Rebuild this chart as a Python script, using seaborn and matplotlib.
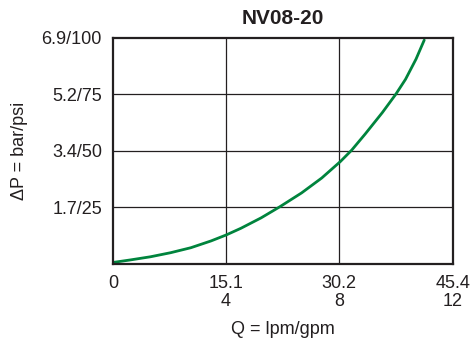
import numpy as np
import pandas as pd
import matplotlib
matplotlib.use("Agg")
import matplotlib.pyplot as plt
import seaborn as sns

# curve: flow in lpm, pressure drop in psi
flow_lpm = [0, 2.3, 5.0, 7.7, 10.4, 13.1, 15.1, 17.1, 19.8, 22.3, 25.2,
            27.9, 30.4, 31.9, 33.7, 36.0, 37.8, 39.1, 40.5, 41.6]
dp_psi = [0.7, 1.8, 3.2, 5.0, 7.2, 10.2, 12.8, 15.8, 20.4, 25.3, 31.4,
          38.0, 45.3, 50.3, 57.4, 66.9, 75.0, 81.6, 90.5, 98.9]

x_ticks = [0, 15.1, 30.2, 45.4]
x_labels = ["0", "15.1\n4", "30.2\n8", "45.4\n12"]
y_ticks = [25, 50, 75, 100]
y_labels = ["1.7/25", "3.4/50", "5.2/75", "6.9/100"]

title = "NV08-20"
ink = "#231f20"
green = "#00843d"

sns.set_theme(style="white")
plt.rcParams["font.family"] = ["Liberation Sans", "DejaVu Sans"]

fig = plt.figure(figsize=(4.73, 3.42), dpi=100)
ax = fig.add_axes([0.239, 0.228, 0.718, 0.662])

df = pd.DataFrame({"Q": flow_lpm, "dP": dp_psi})
sns.lineplot(data=df, x="Q", y="dP", ax=ax, color=green, linewidth=2.0)

ax.set_xlim(0, 45.4)
ax.set_ylim(0, 100)
ax.set_xticks(x_ticks)
ax.set_xticklabels(x_labels, fontsize=13, color=ink, linespacing=1.05)
ax.set_yticks(y_ticks)
ax.set_yticklabels(y_labels, fontsize=13, color=ink)
ax.tick_params(axis="both", length=0, pad=8)

for xv in x_ticks[1:-1]:
    ax.axvline(xv, color=ink, lw=0.9, zorder=0)
for yv in y_ticks[:-1]:
    ax.axhline(yv, color=ink, lw=0.9, zorder=0)

for sp in ax.spines.values():
    sp.set_visible(True)
    sp.set_color(ink)
    sp.set_linewidth(1.6)

ax.set_xlabel("Q = lpm/gpm", fontsize=13, color=ink, labelpad=8)
ax.set_ylabel("ΔP = bar/psi", fontsize=13, color=ink, labelpad=10)
ax.set_title(title, fontsize=15, fontweight="bold", color=ink, pad=10)

fig.savefig("out.png", dpi=100)
